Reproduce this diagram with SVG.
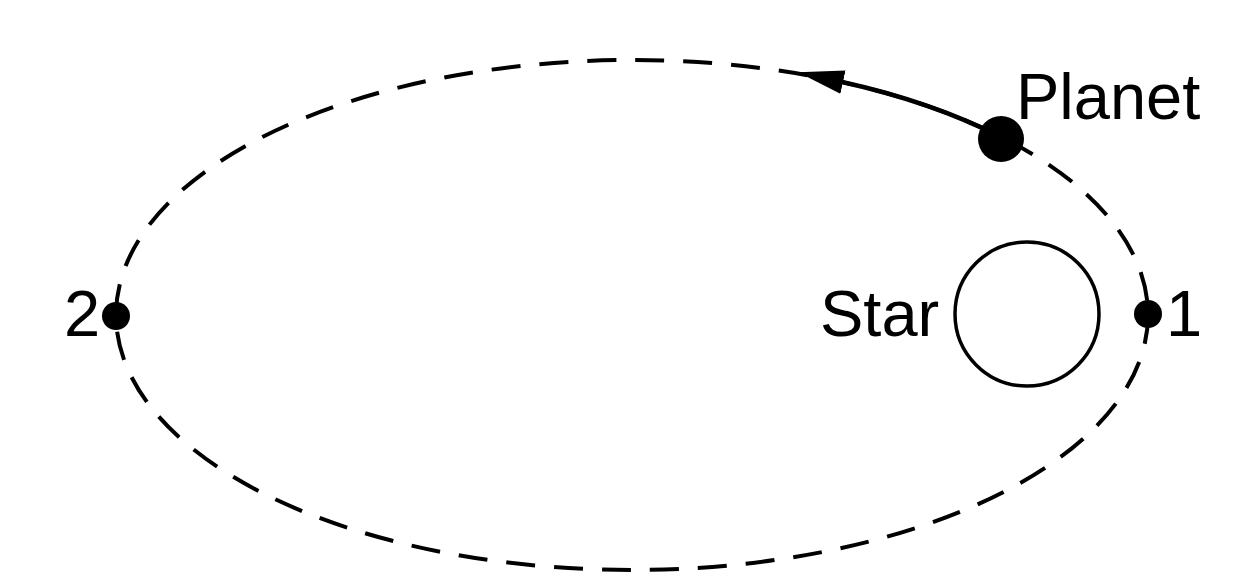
<svg xmlns="http://www.w3.org/2000/svg" width="1260" height="588" viewBox="0 0 1260 588">
  <style>
    .lbl { font-family: "Liberation Sans", Arial, sans-serif; font-size: 65px; fill: #000; }
    .orbit { fill: none; stroke: #000; stroke-width: 4; stroke-dasharray: 29 19; }
    .path { fill: none; stroke: #000; stroke-width: 4.5; }
    .dot { fill: #000; }
  </style>
  <defs>
    <marker id="arrow" markerUnits="userSpaceOnUse" markerWidth="48" markerHeight="26" refX="2" refY="12" orient="auto">
      <path d="M0,0 L46,12 L0,24 z" fill="#000"/>
    </marker>
  </defs>
  <rect width="1260" height="588" fill="#fff"/>
  <g id="connectors">
    <ellipse id="orbit" class="orbit" cx="632" cy="315" rx="516" ry="255"/>
    <path id="motion" class="path" d="M 1001 137 A 516 255 0 0 0 841 81.7" marker-end="url(#arrow)"/>
  </g>
  <g id="star">
    <circle cx="1027" cy="314" r="72" fill="#fff" stroke="#000" stroke-width="3.5"/>
    <text class="lbl" x="820" y="336">Star</text>
  </g>
  <g id="planet">
    <circle class="dot" cx="1001" cy="139" r="23"/>
    <text class="lbl" x="1016" y="119">Planet</text>
  </g>
  <g id="point1">
    <circle class="dot" cx="1148" cy="314" r="14"/>
    <text class="lbl" x="1166" y="336">1</text>
  </g>
  <g id="point2">
    <circle class="dot" cx="116" cy="316" r="14"/>
    <text class="lbl" x="64" y="336">2</text>
  </g>
</svg>
